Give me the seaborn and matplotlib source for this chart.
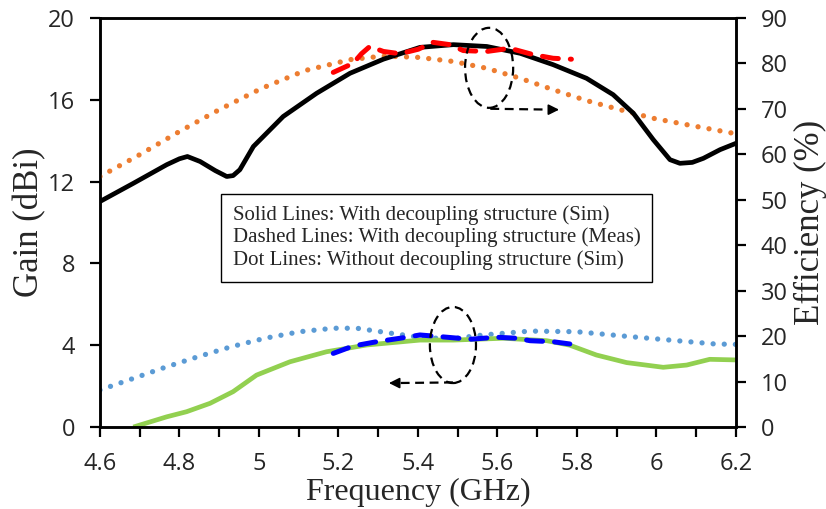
import numpy as np
import matplotlib
matplotlib.use('Agg')
import matplotlib.pyplot as plt
import seaborn as sns
from matplotlib.patches import Ellipse
from matplotlib.ticker import MultipleLocator, FuncFormatter

# ---- data ----
# efficiency (%), right axis
eff_sim_f = [4.600, 4.684, 4.768, 4.800, 4.820, 4.852, 4.890, 4.919, 4.935, 4.952,
             4.986, 5.061, 5.145, 5.229, 5.313, 5.405, 5.489, 5.573, 5.657, 5.740,
             5.824, 5.891, 5.942, 5.992, 6.034, 6.059, 6.090, 6.118, 6.160, 6.200]
eff_sim = [49.6, 53.6, 57.7, 59.0, 59.5, 58.4, 56.4, 55.1, 55.3, 56.6,
           61.7, 68.3, 73.4, 77.8, 80.9, 83.5, 84.1, 83.7, 82.2, 79.7,
           76.7, 73.1, 69.0, 63.2, 58.8, 58.0, 58.2, 59.1, 61.0, 62.4]

eff_meas_f = [5.187, 5.237, 5.258, 5.279, 5.313, 5.355, 5.401, 5.438, 5.480, 5.514,
              5.573, 5.631, 5.690, 5.740, 5.786]
eff_meas = [78.0, 80.0, 82.1, 83.7, 82.6, 82.1, 83.1, 84.6, 84.1, 82.8,
            82.6, 83.3, 81.9, 81.1, 80.9]

eff_nodec_f = [4.600, 4.700, 4.800, 4.900, 5.007, 5.116, 5.229, 5.313, 5.401, 5.489,
               5.573, 5.657, 5.740, 5.824, 5.908, 5.992, 6.076, 6.200]
eff_nodec = [55.1, 59.9, 65.0, 69.8, 74.5, 78.4, 80.8, 81.6, 81.3, 80.4,
             78.9, 76.7, 74.2, 71.8, 69.8, 67.9, 66.5, 64.5]

# gain (dBi), left axis
gain_sim_f = [4.684, 4.768, 4.818, 4.877, 4.935, 4.994, 5.078, 5.170, 5.271, 5.405,
              5.489, 5.615, 5.724, 5.782, 5.849, 5.925, 6.017, 6.076, 6.134, 6.200]
gain_sim = [0.0, 0.50, 0.75, 1.16, 1.73, 2.54, 3.19, 3.68, 4.01, 4.25,
            4.25, 4.34, 4.22, 4.00, 3.52, 3.15, 2.92, 3.03, 3.31, 3.28]

gain_meas_f = [5.187, 5.237, 5.296, 5.355, 5.405, 5.455, 5.531, 5.598, 5.648, 5.682,
               5.740, 5.782]
gain_meas = [3.60, 3.96, 4.17, 4.34, 4.50, 4.42, 4.29, 4.39, 4.34, 4.22,
             4.17, 4.06]

gain_nodec_f = [4.600, 4.680, 4.764, 4.847, 4.931, 5.015, 5.103, 5.187, 5.246, 5.334,
                5.400, 5.480, 5.564, 5.682, 5.799, 5.916, 6.034, 6.147, 6.200]
gain_nodec = [1.81, 2.35, 2.92, 3.44, 3.93, 4.34, 4.66, 4.83, 4.83, 4.58,
              4.40, 4.30, 4.50, 4.69, 4.66, 4.45, 4.25, 4.06, 4.04]

note = ("Solid Lines: With decoupling structure (Sim)\n"
        "Dashed Lines: With decoupling structure (Meas)\n"
        "Dot Lines: Without decoupling structure (Sim)")

# ---- style ----
sns.set_style("white")
serif = ['Liberation Serif', 'DejaVu Serif']
tickfont = ['Open Sans', 'DejaVu Sans']

dot = (0, (0.01, 2.1))
dash = (0, (3.2, 2.4))

fig = plt.figure(figsize=(8.26, 5.09), dpi=100)
ax = fig.add_axes([0.121, 0.161, 0.770, 0.804])
ax2 = ax.twinx()

# gain curves (left)
sns.lineplot(x=gain_nodec_f, y=gain_nodec, ax=ax, color='#5B9BD5', lw=3.8,
             linestyle=dot, dash_capstyle='round')
sns.lineplot(x=gain_sim_f, y=gain_sim, ax=ax, color='#92D050', lw=3.4,
             solid_capstyle='butt')
sns.lineplot(x=gain_meas_f, y=gain_meas, ax=ax, color='#0000FF', lw=3.6,
             linestyle=dash, dash_capstyle='round')

# efficiency curves (right)
sns.lineplot(x=eff_nodec_f, y=eff_nodec, ax=ax2, color='#ED7D31', lw=3.8,
             linestyle=dot, dash_capstyle='round')
sns.lineplot(x=eff_sim_f, y=eff_sim, ax=ax2, color='black', lw=3.4,
             solid_joinstyle='round')
sns.lineplot(x=eff_meas_f, y=eff_meas, ax=ax2, color='#FF0000', lw=3.6,
             linestyle=dash, dash_capstyle='round')

ax.set_xlim(4.6, 6.2)
ax.set_ylim(0, 20)
ax2.set_ylim(0, 90)

ax.xaxis.set_major_locator(MultipleLocator(0.2))
ax.xaxis.set_minor_locator(MultipleLocator(0.1))
ax.xaxis.set_major_formatter(FuncFormatter(lambda v, p: f"{v:g}"))
ax.yaxis.set_major_locator(MultipleLocator(4))
ax2.yaxis.set_major_locator(MultipleLocator(10))

for a in (ax, ax2):
    for s in a.spines.values():
        s.set_linewidth(1.8)
        s.set_color('black')
    a.tick_params(which='both', direction='out', length=7, width=1.6,
                  color='black', labelsize=17)
    for lab in a.get_xticklabels() + a.get_yticklabels():
        lab.set_family(tickfont)
ax.tick_params(axis='x', which='both', bottom=True, pad=11)
ax.tick_params(axis='y', left=True, pad=11)
ax2.tick_params(axis='y', right=True, pad=11)

ax.set_xlabel("Frequency (GHz)", family=serif, fontsize=23, labelpad=1)
ax.set_ylabel("Gain (dBi)", family=serif, fontsize=25, labelpad=1)
ax2.set_ylabel("Efficiency (%)", family=serif, fontsize=25, labelpad=4)
ax.grid(False)
ax2.grid(False)

# annotations: ellipses with arrows
ax2.add_patch(Ellipse((5.579, 79.0), 0.121, 17.6, fill=False, ec='black',
                      lw=1.6, ls=(0, (4, 2.5)), zorder=5))
ax2.plot([5.582, 5.745], [70.0, 69.8], color='black', lw=1.6,
         ls=(0, (4, 2.5)), zorder=5)
ax2.annotate('', xy=(5.762, 69.8), xytext=(5.735, 69.8),
             arrowprops=dict(arrowstyle='-|>', color='black', lw=1.2,
                             mutation_scale=16), zorder=5)

ax.add_patch(Ellipse((5.488, 4.01), 0.116, 3.72, fill=False, ec='black',
                     lw=1.6, ls=(0, (4, 2.5)), zorder=5))
ax.plot([5.488, 5.338], [2.18, 2.15], color='black', lw=1.6,
        ls=(0, (4, 2.5)), zorder=5)
ax.annotate('', xy=(5.320, 2.15), xytext=(5.348, 2.15),
            arrowprops=dict(arrowstyle='-|>', color='black', lw=1.2,
                            mutation_scale=16), zorder=5)

ax2.text(0.209, 0.463, note, transform=ax.transAxes, family=serif,
         fontsize=15, va='center', ha='left', linespacing=1.2, zorder=6,
         bbox=dict(boxstyle='square,pad=0.55', fc='white', ec='black', lw=1))

fig.savefig("out.png", dpi=100)
